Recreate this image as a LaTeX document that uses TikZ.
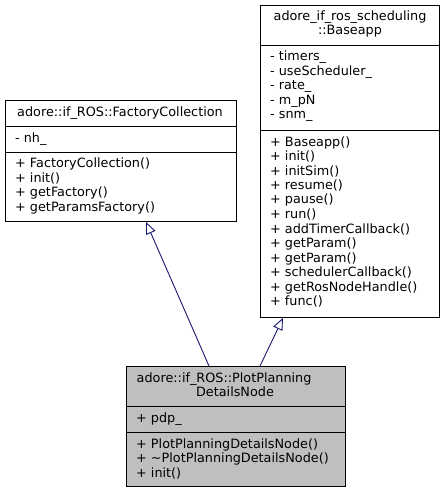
\documentclass[tikz,border=0pt]{standalone}
\usepackage{fontspec}
\setmainfont{DejaVu Sans}
\usetikzlibrary{arrows.meta}
\definecolor{edgeblue}{HTML}{191970}
\definecolor{nodegray}{HTML}{BFBFBF}
\newcommand\lns[1]{\begin{tabular}[t]{@{}l@{}}#1\end{tabular}}
\begin{document}
\begin{tikzpicture}[x=1pt,y=-1pt,
  box/.style={draw=black, line width=0.9pt, fill=white, rectangle, inner sep=0pt, anchor=north west},
  txt/.style={inner sep=0pt, font=\fontsize{12.8}{14.5}\selectfont},
  lt/.style={txt, anchor=base west},
  ct/.style={txt, anchor=base},
  sepline/.style={draw=black, line width=0.9pt},
  inh/.style={draw=edgeblue, line width=0.9pt, -{Triangle[open, length=12pt, width=10pt]}}]
\useasboundingbox (0,0) rectangle (445,492);
% boxes
\node[box, minimum width=231pt, minimum height=121pt] (fc) at (5,100) {};
\node[box, minimum width=179pt, minimum height=312pt] (ba) at (260,5) {};
\node[box, fill=nodegray, minimum width=219pt, minimum height=120pt] (pp) at (126,366) {};
% separators
\draw[sepline] (fc.west |- 0,126) -- (fc.east |- 0,126);
\draw[sepline] (fc.west |- 0,152) -- (fc.east |- 0,152);
\draw[sepline] (ba.west |- 0,45) -- (ba.east |- 0,45);
\draw[sepline] (ba.west |- 0,130) -- (ba.east |- 0,130);
\draw[sepline] (pp.west |- 0,406) -- (pp.east |- 0,406);
\draw[sepline] (pp.west |- 0,432) -- (pp.east |- 0,432);
% texts
\node[ct] (fct) at (120,116.5) {adore::if\_ROS::FactoryCollection};
\node[lt] (fca) at (15,142.5) {\lns{- nh\_}};
\node[lt] (fcm) at (15,167.5) {\lns{+ FactoryCollection()\\+ init()\\+ getFactory()\\+ getParamsFactory()}};
\node[ct] (bat1) at (350,20.5) {adore\_if\_ros\_scheduling};
\node[ct] (bat2) at (350,35) {::Baseapp};
\node[lt] (baa) at (270,61) {\lns{- timers\_\\- useScheduler\_\\- rate\_\\- m\_pN\\- snm\_}};
\node[lt] (bam) at (270,146) {\lns{+ Baseapp()\\+ init()\\+ initSim()\\+ resume()\\+ pause()\\+ run()\\+ addTimerCallback()\\+ getParam()\\+ getParam()\\+ schedulerCallback()\\+ getRosNodeHandle()\\+ func()}};
\node[lt] (ppt1) at (136.5,382) {adore::if\_ROS::PlotPlanning};
\node[ct] (ppt2) at (235,396.5) {DetailsNode};
\node[lt] (ppa) at (136,422.5) {\lns{+ pdp\_}};
\node[lt] (ppm) at (136,448) {\lns{+ PlotPlanningDetailsNode()\\+ \textasciitilde PlotPlanningDetailsNode()\\+ init()}};
% inheritance edges
\draw[inh] ([xshift=83pt]pp.north west) -- ([xshift=141pt]fc.south west);
\draw[inh] ([xshift=134pt]pp.north west) -- ([xshift=23pt]ba.south west);
\end{tikzpicture}
\end{document}
